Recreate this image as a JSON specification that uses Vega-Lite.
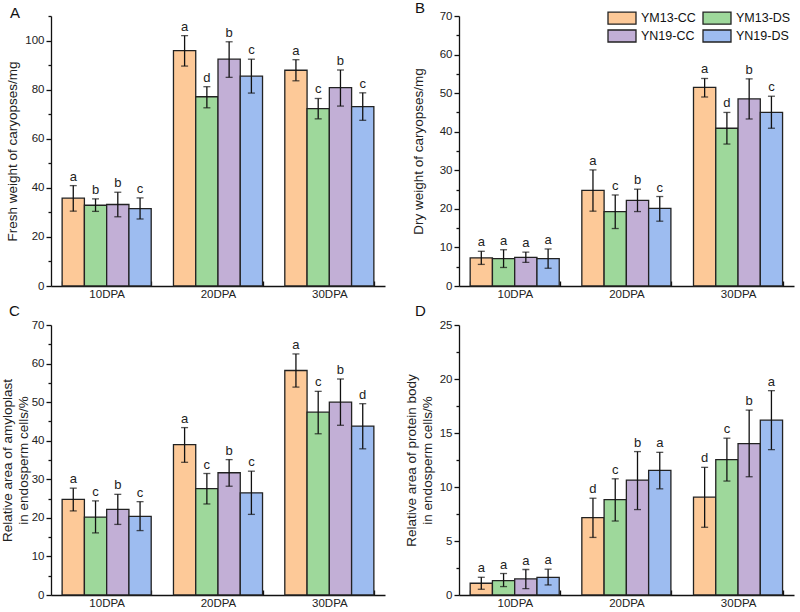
{
  "$schema": "https://vega.github.io/schema/vega-lite/v6.json",
  "padding": {"left": 0, "top": 1, "right": 2, "bottom": 0},
  "background": "white",
  "spacing": 4,
  "data": {"values": [
    {"p":"A","dpa":"10DPA","g":"YM13-CC","v":35.8,"lo":30.5,"hi":40.9,"l":"a"},
    {"p":"A","dpa":"10DPA","g":"YM13-DS","v":32.9,"lo":30.4,"hi":35.5,"l":"b"},
    {"p":"A","dpa":"10DPA","g":"YN19-CC","v":33.2,"lo":28.2,"hi":38.2,"l":"b"},
    {"p":"A","dpa":"10DPA","g":"YN19-DS","v":31.5,"lo":27.3,"hi":35.9,"l":"c"},
    {"p":"A","dpa":"20DPA","g":"YM13-CC","v":95.9,"lo":89.6,"hi":102.0,"l":"a"},
    {"p":"A","dpa":"20DPA","g":"YM13-DS","v":77.1,"lo":72.6,"hi":81.2,"l":"d"},
    {"p":"A","dpa":"20DPA","g":"YN19-CC","v":92.4,"lo":85.0,"hi":99.5,"l":"b"},
    {"p":"A","dpa":"20DPA","g":"YN19-DS","v":85.5,"lo":78.6,"hi":92.4,"l":"c"},
    {"p":"A","dpa":"30DPA","g":"YM13-CC","v":87.9,"lo":83.6,"hi":92.2,"l":"a"},
    {"p":"A","dpa":"30DPA","g":"YM13-DS","v":72.3,"lo":68.1,"hi":76.4,"l":"c"},
    {"p":"A","dpa":"30DPA","g":"YN19-CC","v":80.8,"lo":73.3,"hi":88.0,"l":"b"},
    {"p":"A","dpa":"30DPA","g":"YN19-DS","v":73.1,"lo":67.5,"hi":78.7,"l":"c"},
    {"p":"B","dpa":"10DPA","g":"YM13-CC","v":7.3,"lo":5.6,"hi":9.0,"l":"a"},
    {"p":"B","dpa":"10DPA","g":"YM13-DS","v":7.1,"lo":4.8,"hi":9.4,"l":"a"},
    {"p":"B","dpa":"10DPA","g":"YN19-CC","v":7.4,"lo":6.1,"hi":8.8,"l":"a"},
    {"p":"B","dpa":"10DPA","g":"YN19-DS","v":7.1,"lo":4.6,"hi":9.6,"l":"a"},
    {"p":"B","dpa":"20DPA","g":"YM13-CC","v":24.8,"lo":19.4,"hi":30.1,"l":"a"},
    {"p":"B","dpa":"20DPA","g":"YM13-DS","v":19.3,"lo":14.9,"hi":23.6,"l":"c"},
    {"p":"B","dpa":"20DPA","g":"YN19-CC","v":22.2,"lo":19.3,"hi":25.1,"l":"b"},
    {"p":"B","dpa":"20DPA","g":"YN19-DS","v":20.1,"lo":16.8,"hi":23.2,"l":"c"},
    {"p":"B","dpa":"30DPA","g":"YM13-CC","v":51.5,"lo":49.0,"hi":53.8,"l":"a"},
    {"p":"B","dpa":"30DPA","g":"YM13-DS","v":40.9,"lo":36.8,"hi":45.0,"l":"d"},
    {"p":"B","dpa":"30DPA","g":"YN19-CC","v":48.5,"lo":43.3,"hi":53.7,"l":"b"},
    {"p":"B","dpa":"30DPA","g":"YN19-DS","v":45.0,"lo":40.9,"hi":49.2,"l":"c"},
    {"p":"C","dpa":"10DPA","g":"YM13-CC","v":24.8,"lo":21.8,"hi":27.7,"l":"a"},
    {"p":"C","dpa":"10DPA","g":"YM13-DS","v":20.2,"lo":16.1,"hi":24.4,"l":"c"},
    {"p":"C","dpa":"10DPA","g":"YN19-CC","v":22.2,"lo":18.3,"hi":26.1,"l":"b"},
    {"p":"C","dpa":"10DPA","g":"YN19-DS","v":20.4,"lo":16.7,"hi":24.2,"l":"c"},
    {"p":"C","dpa":"20DPA","g":"YM13-CC","v":39.0,"lo":34.4,"hi":43.4,"l":"a"},
    {"p":"C","dpa":"20DPA","g":"YM13-DS","v":27.6,"lo":23.6,"hi":31.5,"l":"c"},
    {"p":"C","dpa":"20DPA","g":"YN19-CC","v":31.7,"lo":28.2,"hi":35.1,"l":"b"},
    {"p":"C","dpa":"20DPA","g":"YN19-DS","v":26.5,"lo":20.9,"hi":32.1,"l":"c"},
    {"p":"C","dpa":"30DPA","g":"YM13-CC","v":58.2,"lo":53.9,"hi":62.5,"l":"a"},
    {"p":"C","dpa":"30DPA","g":"YM13-DS","v":47.4,"lo":41.8,"hi":52.8,"l":"c"},
    {"p":"C","dpa":"30DPA","g":"YN19-CC","v":50.0,"lo":44.0,"hi":56.0,"l":"b"},
    {"p":"C","dpa":"30DPA","g":"YN19-DS","v":43.8,"lo":37.9,"hi":49.6,"l":"d"},
    {"p":"D","dpa":"10DPA","g":"YM13-CC","v":1.09,"lo":0.53,"hi":1.64,"l":"a"},
    {"p":"D","dpa":"10DPA","g":"YM13-DS","v":1.33,"lo":0.78,"hi":1.99,"l":"a"},
    {"p":"D","dpa":"10DPA","g":"YN19-CC","v":1.49,"lo":0.59,"hi":2.36,"l":"a"},
    {"p":"D","dpa":"10DPA","g":"YN19-DS","v":1.64,"lo":0.93,"hi":2.39,"l":"a"},
    {"p":"D","dpa":"20DPA","g":"YM13-CC","v":7.17,"lo":5.33,"hi":8.96,"l":"d"},
    {"p":"D","dpa":"20DPA","g":"YM13-DS","v":8.84,"lo":6.85,"hi":10.76,"l":"c"},
    {"p":"D","dpa":"20DPA","g":"YN19-CC","v":10.64,"lo":7.91,"hi":13.28,"l":"b"},
    {"p":"D","dpa":"20DPA","g":"YN19-DS","v":11.54,"lo":9.83,"hi":13.21,"l":"a"},
    {"p":"D","dpa":"30DPA","g":"YM13-CC","v":9.06,"lo":6.27,"hi":11.82,"l":"d"},
    {"p":"D","dpa":"30DPA","g":"YM13-DS","v":12.53,"lo":10.55,"hi":14.52,"l":"c"},
    {"p":"D","dpa":"30DPA","g":"YN19-CC","v":14.02,"lo":10.95,"hi":17.12,"l":"b"},
    {"p":"D","dpa":"30DPA","g":"YN19-DS","v":16.19,"lo":13.46,"hi":18.92,"l":"a"}
  ]},
  "resolve": {"scale": {"color": "independent"}},
  "vconcat": [
    {
      "bounds": "flush",
      "spacing": 74,
      "resolve": {"scale": {"color": "independent"}},
      "hconcat": [
        {
          "title": {"text": "A", "anchor": "start", "frame": "group", "dx": -41, "offset": -6},
          "width": 334, "height": 270,
          "transform": [{"filter": "datum.p === 'A'"}],
          "encoding": {
            "x": {"field": "dpa", "type": "nominal", "sort": ["10DPA","20DPA","30DPA"], "scale": {"paddingInner": 0.2, "paddingOuter": 0.1}, "axis": {"title": null}},
            "xOffset": {"field": "g", "type": "nominal", "sort": ["YM13-CC","YM13-DS","YN19-CC","YN19-DS"], "scale": {"paddingInner": 0, "paddingOuter": 0}}
          },
          "layer": [
            {"mark": {"type": "bar", "stroke": "#222", "strokeWidth": 1.3},
             "encoding": {
               "y": {"field": "v", "type": "quantitative", "scale": {"domain": [0,110], "nice": false}, "axis": {"values": [0,20,40,60,80,100], "tickSize": 5, "title": "Fresh weight of caryopses/mg", "titlePadding": 5}},
               "color": {"field": "g", "type": "nominal", "scale": {"domain": ["YM13-CC","YM13-DS","YN19-CC","YN19-DS"], "range": ["#FDC998","#9ED89B","#C2AFD6","#9DBCF0"]}, "legend": null}}},
            {"mark": {"type": "rule", "color": "#111", "strokeWidth": 1.3},
             "encoding": {"y": {"field": "lo", "type": "quantitative", "scale": {"domain": [0,110], "nice": false}, "axis": {"orient": "left", "values": [10,30,50,70,90,110], "labels": false, "domain": false, "tickSize": 3, "title": null}}, "y2": {"field": "hi"}}},
            {"mark": {"type": "tick", "color": "#111", "thickness": 1.3, "size": 7},
             "encoding": {"y": {"field": "lo", "type": "quantitative", "scale": {"domain": [0,110], "nice": false}, "axis": null}}},
            {"mark": {"type": "tick", "color": "#111", "thickness": 1.3, "size": 7},
             "encoding": {"y": {"field": "hi", "type": "quantitative", "scale": {"domain": [0,110], "nice": false}, "axis": null}}},
            {"mark": {"type": "text", "baseline": "alphabetic", "dy": -5, "fontSize": 13, "color": "#222"},
             "encoding": {"y": {"field": "hi", "type": "quantitative", "scale": {"domain": [0,110], "nice": false}, "axis": null}, "text": {"field": "l"}}}
          ],
          "resolve": {"axis": {"y": "independent"}}
        },
        {
          "title": {"text": "B", "anchor": "start", "frame": "group", "dx": -44, "offset": -6},
          "width": 335, "height": 270,
          "transform": [{"filter": "datum.p === 'B'"}],
          "encoding": {
            "x": {"field": "dpa", "type": "nominal", "sort": ["10DPA","20DPA","30DPA"], "scale": {"paddingInner": 0.2, "paddingOuter": 0.1}, "axis": {"title": null}},
            "xOffset": {"field": "g", "type": "nominal", "sort": ["YM13-CC","YM13-DS","YN19-CC","YN19-DS"], "scale": {"paddingInner": 0, "paddingOuter": 0}}
          },
          "layer": [
            {"mark": {"type": "bar", "stroke": "#222", "strokeWidth": 1.3},
             "encoding": {
               "y": {"field": "v", "type": "quantitative", "scale": {"domain": [0,70], "nice": false}, "axis": {"values": [0,10,20,30,40,50,60,70], "tickSize": 5, "title": "Dry weight of caryopses/mg", "titlePadding": 14}},
               "color": {"field": "g", "type": "nominal", "scale": {"domain": ["YM13-CC","YM13-DS","YN19-CC","YN19-DS"], "range": ["#FDC998","#9ED89B","#C2AFD6","#9DBCF0"]},
                 "legend": {"orient": "none", "legendX": 148, "legendY": -6, "columns": 2, "direction": "horizontal", "title": null, "symbolType": "M-1,-0.857H3V0.857H-1Z", "symbolSize": 196, "symbolStrokeColor": "#222", "symbolStrokeWidth": 1.3, "symbolOpacity": 1, "labelFontSize": 12.5, "labelColor": "#111", "columnPadding": 4, "rowPadding": 0, "labelOffset": 18, "padding": 0}}}},
            {"mark": {"type": "rule", "color": "#111", "strokeWidth": 1.3},
             "encoding": {"y": {"field": "lo", "type": "quantitative", "scale": {"domain": [0,70], "nice": false}, "axis": {"orient": "left", "values": [5,15,25,35,45,55,65], "labels": false, "domain": false, "tickSize": 3, "title": null}}, "y2": {"field": "hi"}}},
            {"mark": {"type": "tick", "color": "#111", "thickness": 1.3, "size": 7},
             "encoding": {"y": {"field": "lo", "type": "quantitative", "scale": {"domain": [0,70], "nice": false}, "axis": null}}},
            {"mark": {"type": "tick", "color": "#111", "thickness": 1.3, "size": 7},
             "encoding": {"y": {"field": "hi", "type": "quantitative", "scale": {"domain": [0,70], "nice": false}, "axis": null}}},
            {"mark": {"type": "text", "baseline": "alphabetic", "dy": -5, "fontSize": 13, "color": "#222"},
             "encoding": {"y": {"field": "hi", "type": "quantitative", "scale": {"domain": [0,70], "nice": false}, "axis": null}, "text": {"field": "l"}}}
          ],
          "resolve": {"axis": {"y": "independent"}}
        }
      ]
    },
    {
      "bounds": "flush",
      "spacing": 74,
      "resolve": {"scale": {"color": "independent"}},
      "hconcat": [
        {
          "title": {"text": "C", "anchor": "start", "frame": "group", "dx": -42, "offset": 0},
          "width": 334, "height": 270,
          "transform": [{"filter": "datum.p === 'C'"}],
          "encoding": {
            "x": {"field": "dpa", "type": "nominal", "sort": ["10DPA","20DPA","30DPA"], "scale": {"paddingInner": 0.2, "paddingOuter": 0.1}, "axis": {"title": null}},
            "xOffset": {"field": "g", "type": "nominal", "sort": ["YM13-CC","YM13-DS","YN19-CC","YN19-DS"], "scale": {"paddingInner": 0, "paddingOuter": 0}}
          },
          "layer": [
            {"mark": {"type": "bar", "stroke": "#222", "strokeWidth": 1.3},
             "encoding": {
               "y": {"field": "v", "type": "quantitative", "scale": {"domain": [0,70], "nice": false}, "axis": {"values": [0,10,20,30,40,50,60,70], "tickSize": 5, "title": ["Relative area of amyloplast", "in endosperm cells/%"], "titlePadding": 1}},
               "color": {"field": "g", "type": "nominal", "scale": {"domain": ["YM13-CC","YM13-DS","YN19-CC","YN19-DS"], "range": ["#FDC998","#9ED89B","#C2AFD6","#9DBCF0"]}, "legend": null}}},
            {"mark": {"type": "rule", "color": "#111", "strokeWidth": 1.3},
             "encoding": {"y": {"field": "lo", "type": "quantitative", "scale": {"domain": [0,70], "nice": false}, "axis": {"orient": "left", "values": [5,15,25,35,45,55,65], "labels": false, "domain": false, "tickSize": 3, "title": null}}, "y2": {"field": "hi"}}},
            {"mark": {"type": "tick", "color": "#111", "thickness": 1.3, "size": 7},
             "encoding": {"y": {"field": "lo", "type": "quantitative", "scale": {"domain": [0,70], "nice": false}, "axis": null}}},
            {"mark": {"type": "tick", "color": "#111", "thickness": 1.3, "size": 7},
             "encoding": {"y": {"field": "hi", "type": "quantitative", "scale": {"domain": [0,70], "nice": false}, "axis": null}}},
            {"mark": {"type": "text", "baseline": "alphabetic", "dy": -5, "fontSize": 13, "color": "#222"},
             "encoding": {"y": {"field": "hi", "type": "quantitative", "scale": {"domain": [0,70], "nice": false}, "axis": null}, "text": {"field": "l"}}}
          ],
          "resolve": {"axis": {"y": "independent"}}
        },
        {
          "title": {"text": "D", "anchor": "start", "frame": "group", "dx": -44, "offset": 0},
          "width": 335, "height": 270,
          "transform": [{"filter": "datum.p === 'D'"}],
          "encoding": {
            "x": {"field": "dpa", "type": "nominal", "sort": ["10DPA","20DPA","30DPA"], "scale": {"paddingInner": 0.2, "paddingOuter": 0.1}, "axis": {"title": null}},
            "xOffset": {"field": "g", "type": "nominal", "sort": ["YM13-CC","YM13-DS","YN19-CC","YN19-DS"], "scale": {"paddingInner": 0, "paddingOuter": 0}}
          },
          "layer": [
            {"mark": {"type": "bar", "stroke": "#222", "strokeWidth": 1.3},
             "encoding": {
               "y": {"field": "v", "type": "quantitative", "scale": {"domain": [0,25], "nice": false}, "axis": {"values": [0,5,10,15,20,25], "tickSize": 5, "title": ["Relative area of protein body", "in endosperm cells/%"], "titlePadding": 5}},
               "color": {"field": "g", "type": "nominal", "scale": {"domain": ["YM13-CC","YM13-DS","YN19-CC","YN19-DS"], "range": ["#FDC998","#9ED89B","#C2AFD6","#9DBCF0"]}, "legend": null}}},
            {"mark": {"type": "rule", "color": "#111", "strokeWidth": 1.3},
             "encoding": {"y": {"field": "lo", "type": "quantitative", "scale": {"domain": [0,25], "nice": false}, "axis": {"orient": "left", "values": [2.5,7.5,12.5,17.5,22.5], "labels": false, "domain": false, "tickSize": 3, "title": null}}, "y2": {"field": "hi"}}},
            {"mark": {"type": "tick", "color": "#111", "thickness": 1.3, "size": 7},
             "encoding": {"y": {"field": "lo", "type": "quantitative", "scale": {"domain": [0,25], "nice": false}, "axis": null}}},
            {"mark": {"type": "tick", "color": "#111", "thickness": 1.3, "size": 7},
             "encoding": {"y": {"field": "hi", "type": "quantitative", "scale": {"domain": [0,25], "nice": false}, "axis": null}}},
            {"mark": {"type": "text", "baseline": "alphabetic", "dy": -5, "fontSize": 13, "color": "#222"},
             "encoding": {"y": {"field": "hi", "type": "quantitative", "scale": {"domain": [0,25], "nice": false}, "axis": null}, "text": {"field": "l"}}}
          ],
          "resolve": {"axis": {"y": "independent"}}
        }
      ]
    }
  ],
  "config": {
    "font": "Liberation Sans",
    "view": {"stroke": null},
    "title": {"fontSize": 15, "fontWeight": "normal", "color": "#111"},
    "axis": {"grid": false, "minExtent": 0, "domainColor": "#111", "domainWidth": 1.3, "tickColor": "#111", "tickWidth": 1.3, "labelColor": "#222", "labelFontSize": 11.5, "titleFontSize": 13.5, "titleFontWeight": "normal", "titleColor": "#222", "titleLineHeight": 16, "labelPadding": 2},
    "axisX": {"tickBand": "extent", "tickSize": -5, "labelAngle": 0, "labelPadding": 7, "labelFontSize": 11.5},
    "legend": {"labelFont": "Liberation Sans"}
  }
}
